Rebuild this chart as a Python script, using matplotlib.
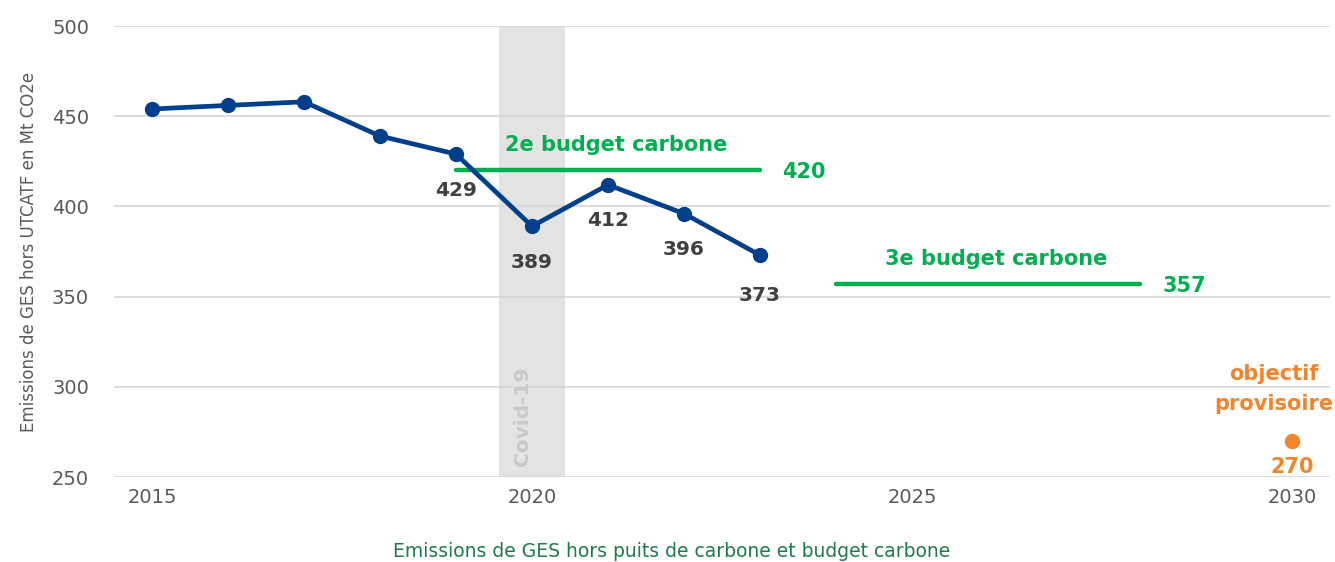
import numpy as np
import matplotlib.pyplot as plt

# emissions de GES hors UTCATF (Mt CO2e)
years = [2015, 2016, 2017, 2018, 2019, 2020, 2021, 2022, 2023]
emissions = [454, 456, 458, 439, 429, 389, 412, 396, 373]
labelled = [2019, 2020, 2021, 2022, 2023]

# budgets carbone
budget_names = ["2e budget carbone", "3e budget carbone"]
budget_start = [2019, 2024]
budget_end = [2023, 2028]
budget_values = [420, 357]

target_year = 2030
target_value = 270

blue = "#003f8c"
green = "#00b050"
orange = "#f4842b"
gray_txt = "#404040"

fig = plt.figure(figsize=(13.35, 5.62), dpi=100)
ax = fig.add_axes([0.0854, 0.1512, 0.9109, 0.8025])

# bande covid
ax.axvspan(2019.57, 2020.43, color="#e3e3e3", zorder=0, lw=0)
ax.text(2019.87, 256, "Covid-19", rotation=90, ha="center", va="bottom",
        color="#c9c9c9", fontsize=14.5, fontweight="bold", zorder=1)

ax.plot(years, emissions, color=blue, lw=3.4, marker="o", ms=10, zorder=4)
for x, y in zip(years, emissions):
    if x in labelled:
        off = 40 if x == 2023 else 36
        ax.annotate(str(y), (x, y), xytext=(0, -off), textcoords="offset pixels",
                    ha="center", va="center", fontsize=14.5, fontweight="bold",
                    color=gray_txt, zorder=5)

# budgets
for name, x0, x1, v in zip(budget_names, budget_start, budget_end, budget_values):
    ax.plot([x0, x1], [v, v], color=green, lw=3.2, solid_capstyle="round", zorder=3)
    ax.annotate(name, ((x0 + x1) / 2, v), xytext=(8, 25), textcoords="offset pixels",
                ha="center", va="center", fontsize=15, fontweight="bold", color=green)
    ax.annotate(str(v), (x1, v), xytext=(44, -2), textcoords="offset pixels",
                ha="center", va="center", fontsize=15, fontweight="bold", color=green)

# objectif 2030
ax.plot([target_year], [target_value], "o", color=orange, ms=10, zorder=4)
ax.annotate(str(target_value), (target_year, target_value), xytext=(0, -26),
            textcoords="offset pixels", ha="center", va="center", fontsize=15,
            fontweight="bold", color=orange)
ax.annotate("objectif\nprovisoire", (target_year, target_value), xytext=(-18, 52),
            textcoords="offset pixels", ha="center", va="center", fontsize=15,
            fontweight="bold", color=orange, linespacing=1.6)

ax.set_xlim(2014.5, 2030.5)
ax.set_ylim(250, 500)
ax.set_xticks([2015, 2020, 2025, 2030])
ax.set_yticks(np.arange(250, 501, 50))
ax.grid(axis="y", color="#d9d9d9", lw=1.3)
ax.set_axisbelow(True)
for s in ax.spines.values():
    s.set_visible(False)
ax.tick_params(length=0, labelsize=14, colors="#595959", pad=8)
ax.tick_params(axis="y", pad=18)

ax.set_ylabel("Emissions de GES hors UTCATF en Mt CO2e", fontsize=12,
              color="#595959", labelpad=10)
fig.text(0.503, 0.018, "Emissions de GES hors puits de carbone et budget carbone",
         ha="center", va="center", fontsize=13.5, color="#1e7b4e")

fig.savefig("out.png", dpi=100)
